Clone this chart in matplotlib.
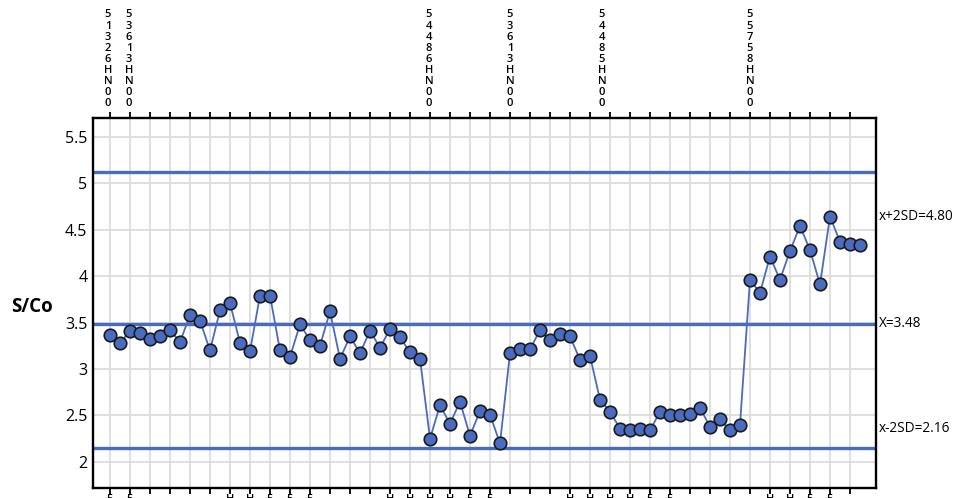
import matplotlib
matplotlib.use("Agg")
import matplotlib.pyplot as plt
import numpy as np

plt.rcParams['font.family'] = ['Open Sans', 'DejaVu Sans']

# ---- data ----
s_co = [3.37, 3.28, 3.41, 3.39, 3.32, 3.36, 3.42, 3.29, 3.58, 3.52,
        3.20, 3.63, 3.71, 3.28, 3.19, 3.79, 3.79, 3.20, 3.13, 3.48,
        3.31, 3.25, 3.62, 3.11, 3.35, 3.17, 3.41, 3.23, 3.43, 3.34,
        3.18, 3.11, 2.25, 2.61, 2.41, 2.65, 2.28, 2.55, 2.51, 2.20,
        3.17, 3.21, 3.21, 3.42, 3.31, 3.38, 3.35, 3.10, 3.14, 2.67,
        2.54, 2.36, 2.34, 2.36, 2.34, 2.54, 2.50, 2.50, 2.52, 2.58,
        2.38, 2.46, 2.34, 2.40, 3.96, 3.82, 4.21, 3.96, 4.27, 4.54,
        4.28, 3.91, 4.64, 4.37, 4.34, 4.33]
upper_line = 5.12
mean_line = 3.48
lower_line = 2.155
limit_labels = ["x+2SD=4.80", "X=3.48", "x-2SD=2.16"]
limit_label_y = [4.645, 3.49, 2.36]

y_ticks = [2, 2.5, 3, 3.5, 4, 4.5, 5, 5.5]
y_tick_labels = ["2", "2.5", "3", "3.5", "4", "4.5", "5", "5.5"]

top_label_pos = [-0.2, 1.9, 31.9, 40.0, 49.2, 64.0]
top_labels = ["51326HN00", "53613HN00", "54486HN00", "53613HN00", "54485HN00", "55758HN00"]

bottom_label_pos = [0, 2, 12, 14, 16, 18, 20, 28, 30, 32, 34, 36, 38,
                    46, 48, 50, 52, 54, 56, 66, 68, 70, 72]
bottom_labels = ["5", "5", "H", "H", "5", "5", "5", "H", "H", "H", "H", "5", "5",
                 "H", "H", "H", "H", "5", "5", "H", "H", "5", "5"]

x = np.arange(len(s_co))
blue = "#4a6cc0"

fig = plt.figure(figsize=(9.55, 4.98), dpi=100)
ax = fig.add_axes([93 / 955, 10 / 498, 783 / 955, 370 / 498])

ax.set_xlim(-1.7, 76.6)
ax.set_ylim(1.72, 5.70)

# grid
grid_x = np.arange(0, 76, 2)
ax.set_xticks(grid_x)
ax.set_yticks(y_ticks)
ax.set_yticklabels(y_tick_labels)
ax.grid(True, color="#d9d9d9", linewidth=1.2)
ax.set_axisbelow(True)

ax.tick_params(axis='x', which='both', top=True, bottom=True, direction='out',
               length=4.5, width=1.3, color='black', labelbottom=False, labeltop=False)
ax.tick_params(axis='y', length=0, pad=4, labelsize=11.5)

for sp in ax.spines.values():
    sp.set_linewidth(1.7)
    sp.set_color('black')

# control lines
for v in (upper_line, mean_line, lower_line):
    ax.axhline(v, color=blue, linewidth=2.4, zorder=2)

# data
ax.plot(x, s_co, color=blue, linewidth=1.3, marker='o', markersize=9,
        markerfacecolor=blue, markeredgecolor='#1a1a1a', markeredgewidth=1.2, zorder=3)

# right labels
for lab, yv in zip(limit_labels, limit_label_y):
    ax.annotate(lab, xy=(1, yv), xycoords=('axes fraction', 'data'),
                xytext=(3, 0), textcoords='offset pixels', ha='left', va='center',
                fontsize=9.8, annotation_clip=False)

# top stacked labels
for pos, lab in zip(top_label_pos, top_labels):
    n = len(lab)
    for k, ch in enumerate(lab):
        dy = 14.7 + (n - 1 - k) * 11.04
        ax.annotate(ch, xy=(pos, 1), xycoords=('data', 'axes fraction'),
                    xytext=(0, dy), textcoords='offset pixels', ha='center', va='center',
                    fontsize=8, fontweight='semibold', annotation_clip=False)

# bottom (cut-off) labels
for pos, lab in zip(bottom_label_pos, bottom_labels):
    ax.annotate(lab, xy=(pos, 0), xycoords=('data', 'axes fraction'),
                xytext=(0, -6), textcoords='offset pixels', ha='center', va='top',
                fontsize=8, fontweight='semibold', annotation_clip=False)

fig.text(32 / 955, 1 - 307 / 498, "S/Co", ha='center', va='center',
         fontsize=13.5, fontweight='bold')

fig.savefig("out.png", dpi=100)
